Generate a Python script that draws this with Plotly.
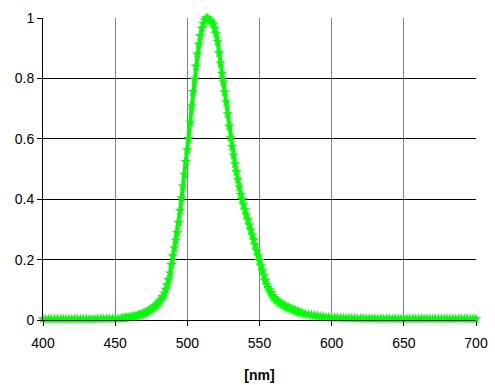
import plotly.graph_objects as go

# Wavelengths [nm]
left_wl = list(range(400, 455, 2))
left_val = [0.003, 0.003, 0.003, 0.003, 0.003, 0.003, 0.003, 0.003, 0.003, 0.003,
            0.003, 0.003, 0.003, 0.003, 0.003, 0.003, 0.003, 0.003, 0.003, 0.004,
            0.004, 0.004, 0.004, 0.004, 0.005, 0.005, 0.005, 0.005]

core_wl = list(range(455, 581))
core_val = [0.006, 0.006, 0.007, 0.008, 0.008, 0.009, 0.010, 0.011, 0.012, 0.013,
            0.014, 0.016, 0.017, 0.019, 0.021, 0.023, 0.025, 0.027, 0.030, 0.033,
            0.036, 0.039, 0.043, 0.047, 0.052, 0.057, 0.063, 0.070, 0.077, 0.088,
            0.101, 0.116, 0.133, 0.155, 0.183, 0.212, 0.238, 0.264, 0.289, 0.322,
            0.362, 0.404, 0.443, 0.482, 0.524, 0.563, 0.600, 0.655, 0.709, 0.756,
            0.797, 0.840, 0.880, 0.912, 0.941, 0.966, 0.982, 0.993, 0.999, 1.000,
            0.996, 0.991, 0.986, 0.979, 0.965, 0.947, 0.922, 0.884, 0.850, 0.816,
            0.787, 0.755, 0.721, 0.682, 0.641, 0.603, 0.574, 0.546, 0.517, 0.491,
            0.465, 0.440, 0.415, 0.398, 0.381, 0.364, 0.347, 0.331, 0.314, 0.297,
            0.281, 0.265, 0.248, 0.230, 0.212, 0.196, 0.179, 0.162, 0.146, 0.130,
            0.118, 0.108, 0.099, 0.090, 0.080, 0.074, 0.069, 0.065, 0.061, 0.057,
            0.054, 0.051, 0.048, 0.046, 0.043, 0.041, 0.039, 0.037, 0.035, 0.033,
            0.031, 0.029, 0.027, 0.025, 0.024, 0.022]

tail_wl = list(range(582, 701, 2))
tail_val = [0.020, 0.018, 0.016, 0.015, 0.013, 0.012, 0.011, 0.010, 0.009, 0.008,
            0.008, 0.007, 0.007, 0.007, 0.006, 0.006, 0.006, 0.006, 0.005, 0.005,
            0.005, 0.005, 0.005, 0.005, 0.005, 0.004, 0.004, 0.004, 0.004, 0.004,
            0.004, 0.004, 0.004, 0.004, 0.004, 0.004, 0.004, 0.004, 0.004, 0.004,
            0.004, 0.004, 0.004, 0.004, 0.004, 0.004, 0.004, 0.004, 0.004, 0.004,
            0.004, 0.004, 0.004, 0.004, 0.004, 0.004, 0.004, 0.004, 0.004, 0.004]

wavelengths = left_wl + core_wl + tail_wl
intensity = left_val + core_val + tail_val

x_ticks = [400, 450, 500, 550, 600, 650, 700]
y_ticks = [0, 0.2, 0.4, 0.6, 0.8, 1]
x_title = "<b>[nm]</b>"

GREEN = "#00ff00"
font = dict(family="Liberation Sans, Arial, sans-serif", size=14, color="black")

fig = go.Figure()
fig.add_trace(go.Scatter(
    x=wavelengths, y=intensity,
    mode="lines+markers",
    line=dict(color=GREEN, width=4),
    marker=dict(symbol="star", size=8, color=GREEN, line=dict(width=0)),
    cliponaxis=False,
    showlegend=False,
))

fig.update_layout(
    width=495, height=385,
    margin=dict(l=43, r=19, t=18, b=65),
    paper_bgcolor="white", plot_bgcolor="white",
    font=font,
)
fig.update_xaxes(
    range=[400, 700], tickvals=x_ticks,
    showgrid=True, gridcolor="#808080", gridwidth=1,
    showline=True, linecolor="black", linewidth=1,
    ticks="outside", ticklen=5, tickcolor="black",
    ticklabelstandoff=5,
    zeroline=False, automargin=False,
    title=dict(text=x_title, font=font, standoff=20),
)
fig.update_yaxes(
    range=[0, 1], tickvals=y_ticks,
    showgrid=True, gridcolor="black", gridwidth=1,
    showline=True, linecolor="black", linewidth=1,
    ticks="outside", ticklen=5, tickcolor="black",
    zeroline=False, automargin=False,
)

fig.write_html(
    "out.html",
    config={"displayModeBar": False},
    post_script="document.body.style.margin='0';document.body.style.overflow='hidden';",
)
